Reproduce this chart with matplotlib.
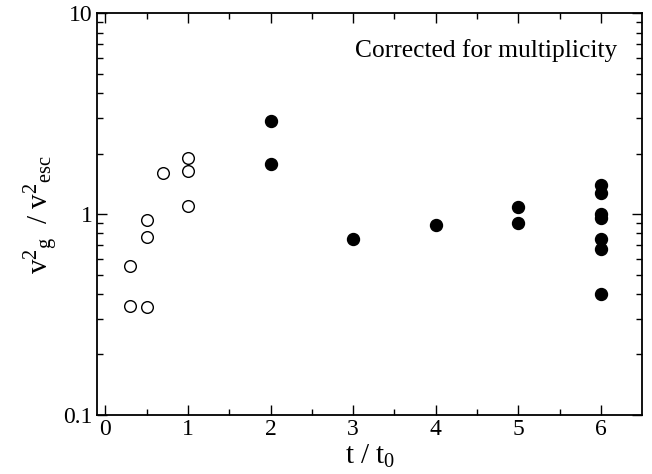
import matplotlib
matplotlib.use("Agg")
import matplotlib.pyplot as plt
from matplotlib.ticker import FixedLocator, NullFormatter, LogLocator

plt.rcParams['font.family'] = ['Liberation Serif', 'DejaVu Serif']
plt.rcParams['mathtext.fontset'] = 'custom'
plt.rcParams['mathtext.rm'] = 'Liberation Serif'
plt.rcParams['mathtext.it'] = 'Liberation Serif:italic'

# open circles (early times)
open_t = [0.3, 0.3, 0.5, 0.5, 0.5, 0.7, 1.0, 1.0, 1.0]
open_v = [0.55, 0.35, 0.93, 0.77, 0.345, 1.60, 1.91, 1.63, 1.10]

# filled circles
fill_t = [2, 2, 3, 4, 5, 5, 6, 6, 6, 6, 6, 6, 6]
fill_v = [2.90, 1.78, 0.75, 0.88, 1.08, 0.90, 1.40, 1.27, 1.00, 0.95, 0.75, 0.67, 0.40]

xticks = [0, 1, 2, 3, 4, 5, 6]
yticks = [0.1, 1, 10]
ytick_labels = ["0.1", "1", "10"]

fig = plt.figure(figsize=(6.52, 4.74), dpi=100)
ax = fig.add_axes([0.149, 0.1245, 0.836, 0.848])

ax.plot(open_t, open_v, 'o', mfc='white', mec='black', mew=1.0, ms=8.4, ls='none')
ax.plot(fill_t, fill_v, 'o', mfc='black', mec='black', ms=8.6, ls='none')

ax.set_yscale('log')
ax.set_xlim(-0.1, 6.5)
ax.set_ylim(0.1, 10)
ax.set_xticks(xticks)
ax.set_xticklabels([str(x) for x in xticks])
ax.xaxis.set_minor_locator(FixedLocator([0.5, 1.5, 2.5, 3.5, 4.5, 5.5]))
ax.yaxis.set_major_locator(FixedLocator(yticks))
ax.set_yticklabels(ytick_labels)
ax.yaxis.set_minor_locator(LogLocator(base=10, subs=range(2, 10)))
ax.yaxis.set_minor_formatter(NullFormatter())

ax.tick_params(which='both', direction='in', top=True, right=True, labelsize=17, width=1.0)
ax.tick_params(which='major', length=7.5, pad=3)
ax.tick_params(which='minor', length=4)
for s in ax.spines.values():
    s.set_linewidth(1.3)

ax.set_xlabel(r'$\mathrm{t\ /\ t}_{0}$', fontsize=21, labelpad=2)
ax.set_ylabel(r'$\mathrm{v}^{2}{}_{\mathrm{g}}\ \ /\ \mathrm{v}^{2}{}_{\mathrm{esc}}$', fontsize=21, labelpad=2)

ax.text(0.954, 0.908, 'Corrected for multiplicity', transform=ax.transAxes,
        ha='right', va='center', fontsize=18.4)

fig.savefig('out.png', dpi=100)
